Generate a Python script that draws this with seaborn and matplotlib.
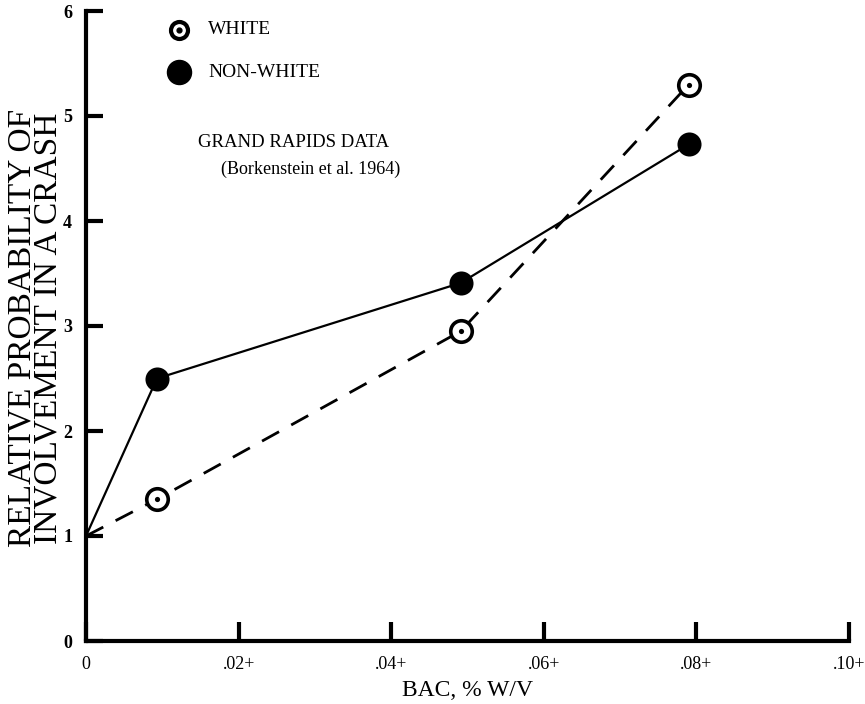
import matplotlib
matplotlib.use("Agg")
import matplotlib.pyplot as plt
import seaborn as sns
import pandas as pd

# ---- data ----
bac = [0.0, 0.0093, 0.0491, 0.0790]
white = [1.0, 1.35, 2.95, 5.30]
nonwhite = [1.0, 2.50, 3.41, 4.73]
x_ticks = [0.0, 0.02, 0.04, 0.06, 0.08, 0.10]
x_ticklabels = ["0", ".02+", ".04+", ".06+", ".08+", ".10+"]
y_ticks = [0, 1, 2, 3, 4, 5, 6]
y_ticklabels = ["0", "1", "2", "3", "4", "5", "6"]

df = pd.DataFrame({"bac": bac, "white": white, "nonwhite": nonwhite})

sns.set_theme(style="white", rc={
    "text.color": "black", "axes.labelcolor": "black",
    "xtick.color": "black", "ytick.color": "black",
    "xtick.bottom": True, "ytick.left": True,
})
plt.rcParams["font.family"] = ["Liberation Serif", "DejaVu Serif"]

fig = plt.figure(figsize=(8.65, 7.04), dpi=100)
ax = fig.add_axes([86 / 865, 63 / 704, 763 / 865, 630 / 704])

# non-white: solid line with filled markers
sns.lineplot(data=df, x="bac", y="nonwhite", ax=ax, color="black", lw=1.6,
             clip_on=False, zorder=2)
sns.scatterplot(data=df.iloc[1:], x="bac", y="nonwhite", ax=ax, color="black",
                s=300, edgecolor="black", linewidth=0, zorder=4, clip_on=False)

# white: dashed line with open circle + centre dot
sns.lineplot(data=df, x="bac", y="white", ax=ax, color="black", lw=2.0,
             clip_on=False, zorder=2, linestyle=(0, (7, 5)))
sns.scatterplot(data=df.iloc[1:], x="bac", y="white", ax=ax, facecolor="white",
                edgecolor="black", s=240, linewidth=2.6, zorder=4, clip_on=False)
sns.scatterplot(data=df.iloc[1:], x="bac", y="white", ax=ax, color="black",
                s=14, linewidth=0, zorder=5, clip_on=False)

ax.set_xlim(0, 0.10)
ax.set_ylim(0, 6)
ax.set_xticks(x_ticks)
ax.set_xticklabels(x_ticklabels, fontsize=13)
ax.set_yticks(y_ticks)
ax.set_yticklabels(y_ticklabels, fontsize=13, fontweight="bold")
ax.tick_params(axis="x", direction="in", length=14, width=3, pad=11,
               bottom=True, colors="black")
ax.tick_params(axis="y", direction="in", length=12, width=3, pad=10,
               left=True, colors="black")
ax.set_xlabel("")
ax.set_ylabel("")
for s in ["top", "right"]:
    ax.spines[s].set_visible(False)
for s in ["left", "bottom"]:
    ax.spines[s].set_linewidth(3)
    ax.spines[s].set_color("black")

# legend (manual)
ax.scatter([0.1219], [0.970], transform=ax.transAxes, s=150, facecolor="white",
           edgecolor="black", linewidth=3.0, clip_on=False, zorder=5)
ax.scatter([0.1219], [0.970], transform=ax.transAxes, s=12, color="black",
           clip_on=False, zorder=6)
ax.scatter([0.1219], [0.903], transform=ax.transAxes, s=300, color="black",
           clip_on=False, zorder=5)
ax.text(0.160, 0.970, "WHITE", transform=ax.transAxes, fontsize=14,
        va="center", ha="left")
ax.text(0.160, 0.903, "NON-WHITE", transform=ax.transAxes, fontsize=14,
        va="center", ha="left")

ax.text(0.2726, 0.792, "GRAND RAPIDS DATA", transform=ax.transAxes,
        fontsize=13.5, ha="center", va="center")
ax.text(0.295, 0.748, "(Borkenstein et al. 1964)", transform=ax.transAxes,
        fontsize=13, ha="center", va="center")

# axis titles
fig.text(35 / 865, (704 - 328) / 704,
         "RELATIVE PROBABILITY OF\nINVOLVEMENT IN A CRASH", rotation=90,
         fontsize=24, ha="center", va="center", multialignment="center",
         linespacing=0.8)
fig.text(467 / 865, (704 - 690) / 704, "BAC, % W/V", fontsize=17,
         ha="center", va="center")

fig.savefig("out.png", dpi=100, facecolor="white")
